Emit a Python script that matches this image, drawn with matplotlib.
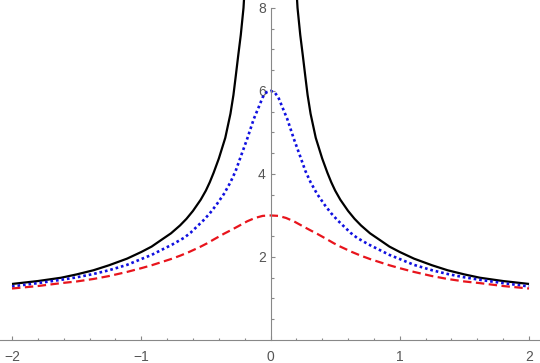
import numpy as np
import matplotlib
matplotlib.use('Agg')
import matplotlib.pyplot as plt

plt.rcParams['font.family'] = ['Liberation Sans', 'DejaVu Sans']
plt.rcParams['font.size'] = 10

# values (curves are symmetric about x = 0, right half listed)
x_black = [0.19, 0.209, 0.23, 0.25, 0.27, 0.287, 0.31, 0.35, 0.40, 0.44, 0.47, 0.50, 0.54,
           0.60, 0.65, 0.70, 0.77, 0.85, 0.92, 1.0, 1.11, 1.25, 1.37, 1.5, 1.62, 1.8, 2.0]
y_black = [9.0, 8.0, 7.35, 6.85, 6.33, 5.9, 5.45, 4.87, 4.37, 4.03, 3.8, 3.6, 3.38,
           3.11, 2.92, 2.76, 2.57, 2.4, 2.25, 2.12, 1.96, 1.8, 1.68, 1.58, 1.5, 1.42, 1.35]

x_blue = [0.0, 0.03, 0.06, 0.09, 0.13, 0.18, 0.23, 0.27, 0.31, 0.36, 0.42, 0.47, 0.52,
          0.57, 0.62, 0.67, 0.76, 0.85, 0.92, 1.0, 1.11, 1.25, 1.37, 1.5, 1.62, 1.8, 2.0]
y_blue = [6.0, 5.97, 5.85, 5.62, 5.32, 4.85, 4.42, 4.07, 3.8, 3.52, 3.25, 3.05, 2.88,
          2.73, 2.58, 2.46, 2.3, 2.16, 2.05, 1.95, 1.81, 1.68, 1.59, 1.51, 1.45, 1.37, 1.29]

x_red = [0.0, 0.06, 0.12, 0.18, 0.25, 0.31, 0.36, 0.44, 0.49, 0.54, 0.63, 0.70, 0.77,
         0.85, 0.92, 1.0, 1.11, 1.25, 1.37, 1.5, 1.62, 1.8, 2.0]
y_red = [3.0, 2.99, 2.94, 2.86, 2.74, 2.64, 2.56, 2.42, 2.33, 2.25, 2.12, 2.03, 1.95,
         1.87, 1.8, 1.73, 1.64, 1.54, 1.47, 1.41, 1.37, 1.3, 1.24]

x_major = [-2, -1, 0, 1, 2]
y_major = [2, 4, 6, 8]


def mirrored(xs, ys):
    xs = np.array(xs)
    ys = np.array(ys)
    return np.concatenate([-xs[::-1], xs]), np.concatenate([ys[::-1], ys])


fig = plt.figure(figsize=(5.4, 3.63), dpi=100)
ax = fig.add_axes([0, 0, 1, 1])

xb = np.array(x_black)
yb = np.array(y_black)
ax.plot(-xb, yb, color='black', lw=1.6, solid_capstyle='butt', solid_joinstyle='round')
ax.plot(xb, yb, color='black', lw=1.6, solid_capstyle='butt', solid_joinstyle='round')

xx, yy = mirrored(x_blue, y_blue)
ax.plot(xx, yy, color='#1010e0', lw=1.9, dashes=(1.0, 1.1))

xx, yy = mirrored(x_red, y_red)
ax.plot(xx, yy, color='#e8141c', lw=1.6, dashes=(3.8, 2.0))

ax.set_xlim(-2.093, 2.085)
ax.set_ylim(-0.554, 8.19)

axis_col = '#888888'
for s in ['top', 'right']:
    ax.spines[s].set_visible(False)
ax.spines['left'].set_position(('data', 0))
ax.spines['bottom'].set_position(('data', 0))
ax.spines['left'].set_bounds(0, 8)
for s in ['left', 'bottom']:
    ax.spines[s].set_color(axis_col)
    ax.spines[s].set_linewidth(0.8)

ax.set_xticks(x_major)
ax.set_xticklabels(['\u22122', '\u22121', '0', '1', '2'])
ax.set_xticks([v / 5 for v in range(-10, 11) if v % 5 != 0], minor=True)
ax.set_yticks(y_major)
ax.set_yticks([v / 2 for v in range(1, 17) if v % 4 != 0], minor=True)

ax.tick_params(which='both', direction='in', color=axis_col, width=0.8)
ax.tick_params(which='major', length=3.2, labelcolor='#555555', labelsize=10)
ax.tick_params(which='minor', length=1.8)
ax.tick_params(axis='x', which='major', pad=7)
ax.tick_params(axis='y', which='major', pad=3.5)

fig.savefig('out.png', dpi=100)
